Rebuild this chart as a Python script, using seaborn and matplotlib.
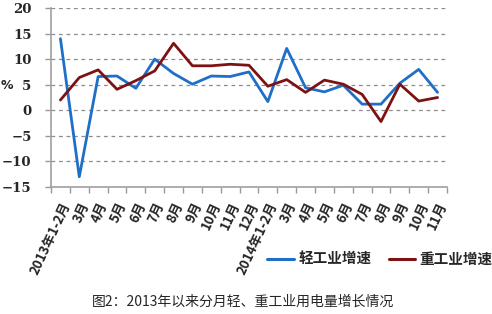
import matplotlib
matplotlib.use("Agg")
import matplotlib.pyplot as plt
import seaborn as sns
import pandas as pd
import numpy as np
from matplotlib.lines import Line2D

categories = ["2013年1-2月", "3月", "4月", "5月", "6月", "7月", "8月", "9月", "10月", "11月", "12月",
              "2014年1-2月", "3月", "4月", "5月", "6月", "7月", "8月", "9月", "10月", "11月"]
light = [14.0, -13.0, 6.6, 6.7, 4.3, 10.0, 7.2, 5.1, 6.7, 6.6, 7.5,
         1.7, 12.1, 4.4, 3.6, 4.9, 1.2, 1.2, 5.3, 8.0, 3.5]
heavy = [2.0, 6.4, 7.9, 4.1, 5.8, 7.7, 13.1, 8.7, 8.7, 9.0, 8.8,
         4.7, 6.0, 3.5, 5.9, 5.1, 3.1, -2.2, 5.1, 1.8, 2.5]
series_names = ["轻工业增速", "重工业增速"]
yticks = [-15, -10, -5, 0, 5, 10, 15, 20]

sns.set_theme(style="white")
plt.rcParams['font.family'] = ['Noto Sans CJK SC', 'DejaVu Sans']
plt.rcParams['axes.unicode_minus'] = True

n = len(categories)
df = pd.DataFrame({
    "pos": list(range(n)) * 2,
    "value": light + heavy,
    "series": [series_names[0]] * n + [series_names[1]] * n,
})

fig = plt.figure(figsize=(4.92, 3.14), dpi=100)
ax = fig.add_axes([51/492, 1 - 187/314, 396/492, 179/314])

palette = {series_names[0]: "#1f6fc8", series_names[1]: "#7d1214"}
sns.lineplot(data=df, x="pos", y="value", hue="series", palette=palette,
             linewidth=2.0, ax=ax, legend=False)

ax.set_xlim(-0.5, n - 0.5)
ax.set_ylim(-15, 20)
ax.set_yticks(yticks)
ax.set_yticklabels([("\u2212" + str(-v)) if v < 0 else str(v) for v in yticks],
                   fontsize=9.5, fontweight="bold", family="DejaVu Serif")
ax.yaxis.grid(True, linestyle=(0, (3, 3)), color="#8c8c8c", linewidth=0.9)
ax.xaxis.grid(False)

ax.set_xticks(range(n))
ax.set_xticklabels(categories, rotation=65, ha="right", va="top",
                   rotation_mode="anchor", fontsize=9.5, fontweight="bold")
ax.tick_params(axis="x", which="major", length=0, pad=9)
ax.set_xticks(np.arange(-0.5, n, 1.0), minor=True)
ax.tick_params(axis="x", which="minor", length=4, color="#999999", width=1, direction="out", bottom=True)
ax.tick_params(axis="y", length=4, color="#999999", width=1, direction="out", left=True, pad=10)

for s in ["top", "right"]:
    ax.spines[s].set_visible(False)
for s in ["left", "bottom"]:
    ax.spines[s].set_color("#a0a0a0")
    ax.spines[s].set_linewidth(1.2)

ax.set_xlabel("")
ax.set_ylabel("")
fig.text(7/492, 1 - 86/314, "%", fontsize=9, fontweight="bold", ha="center", va="center",
         family="DejaVu Sans")

handles = [Line2D([0], [0], color=palette[s], linewidth=2.2) for s in series_names]
fig.legend(handles, series_names, loc="center", bbox_to_anchor=(380/492, 1 - 259/314),
           ncol=2, frameon=False, handlelength=1.8, columnspacing=1.2, handletextpad=0.3,
           prop={"size": 10.5, "weight": "bold", "family": ["Noto Sans CJK SC", "DejaVu Sans"]})

fig.text(243/492, 1 - 302/314, "图2：2013年以来分月轻、重工业用电量增长情况", fontsize=10,
         ha="center", va="center")

fig.savefig("out.png", dpi=100)
